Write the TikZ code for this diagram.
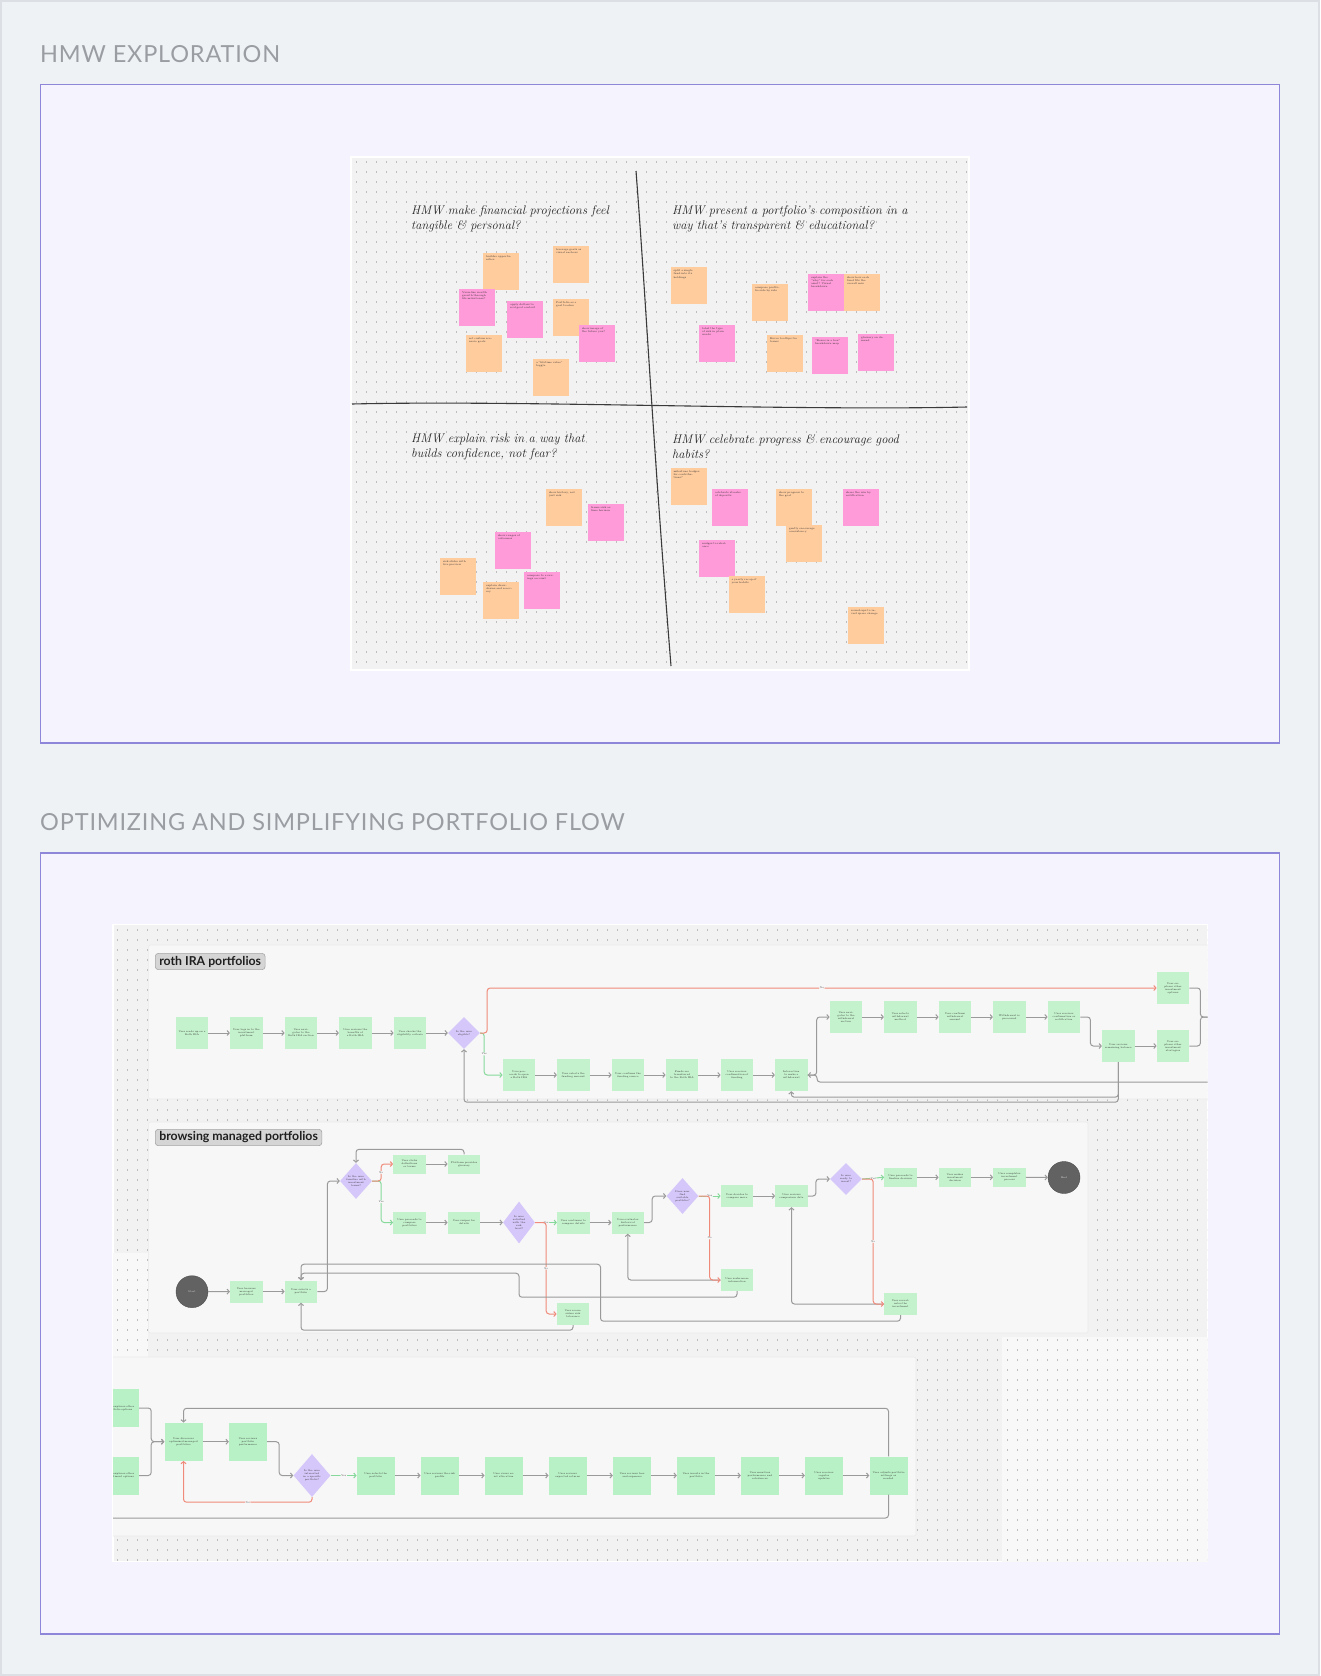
\documentclass[tikz,border=0pt]{standalone}
\usepackage{fontspec}
\setsansfont{Liberation Sans}
\newfontfamily\headfont[LetterSpace=3.5]{Lato}
\newfontfamily\tagfont{Lato}
\usetikzlibrary{arrows.meta,shapes.geometric,positioning,calc}

\definecolor{pagebg}{HTML}{EEF2F5}
\definecolor{pageedge}{HTML}{DCE0E4}
\definecolor{framefill}{HTML}{F4F3FE}
\definecolor{frameline}{HTML}{8E86D9}
\definecolor{headgray}{HTML}{9A9EA3}
\definecolor{boardbg}{HTML}{F2F2F2}
\definecolor{boardlight}{HTML}{F8F8F8}
\definecolor{dotgray}{HTML}{BDBDBD}
\definecolor{quadline}{HTML}{3A3A3A}
\definecolor{stickyorange}{HTML}{FFCC9E}
\definecolor{stickypink}{HTML}{FF9BD8}
\definecolor{panelbg}{HTML}{F7F7F7}
\definecolor{panelline}{HTML}{EAEAEA}
\definecolor{tagfill}{HTML}{D5D5D5}
\definecolor{tagline}{HTML}{A6A6A6}
\definecolor{flowgreen}{HTML}{C4F2CC}
\definecolor{flowgreen2}{HTML}{B9F1C6}
\definecolor{lavender}{HTML}{D6C7FA}
\definecolor{termgray}{HTML}{626262}
\definecolor{arrgray}{HTML}{9A9A9A}
\definecolor{nored}{HTML}{F08A7A}
\definecolor{yesgreen}{HTML}{86D99B}

\begin{document}
\begin{tikzpicture}[x=1pt, y=-1pt, font=\sffamily,
    head/.style={font=\headfont\fontsize{23.5}{26}\selectfont, text=headgray, inner sep=0, anchor=base west},
    frame/.style={draw=frameline, line width=1.6pt, fill=framefill},
    board/.style={draw=white, line width=1.5pt, fill=boardbg},
    dotrow/.style={draw=dotgray, line width=1.3pt, dash pattern=on 1.3pt off 8.7pt},
    hmw/.style={font=\rmfamily\itshape\fontsize{12.5}{15}\selectfont, align=left, anchor=north west, inner sep=0, text=black!85},
    quad/.style={draw=quadline, line width=1.1pt},
    stko/.style={fill=stickyorange, minimum width=36pt, minimum height=37pt, inner sep=0},
    stkp/.style={stko, fill=stickypink},
    stxt/.style={anchor=north west, font=\fontsize{2.6}{3.1}\selectfont, text width=27pt, align=left, inner sep=3pt, text=black!80},
    panel/.style={fill=panelbg, draw=panelline, line width=0.6pt, rounded corners=2pt},
    tag/.style={fill=tagfill, draw=tagline, line width=0.6pt, rounded corners=3pt, font=\tagfont\bfseries\fontsize{12.3}{14}\selectfont, inner xsep=4pt, inner ysep=2.5pt, anchor=west, text=black!88},
    fbox/.style={fill=flowgreen, minimum width=32.4pt, minimum height=32pt, text width=27pt, align=center, inner sep=0, font=\fontsize{2.5}{3}\selectfont, text=black!80},
    fsm/.style={fbox, minimum height=22pt},
    fbig/.style={fbox, fill=flowgreen2, minimum width=38pt, minimum height=38pt, text width=33pt},
    dec/.style={diamond, fill=lavender, minimum width=32pt, minimum height=32pt, inner sep=0, align=center, font=\fontsize{2.5}{3}\selectfont, text=black!80},
    term/.style={circle, fill=termgray, draw=termgray!80!black, minimum size=32pt, inner sep=0, font=\fontsize{2.5}{3}\selectfont, text=white!75!gray},
    arr/.style={draw=arrgray, line width=1pt, rounded corners=3pt, -{Straight Barb[length=2.2pt,width=5pt]}},
    noarr/.style={arr, draw=nored},
    yesarr/.style={arr, draw=yesgreen},
    lbl/.style={font=\fontsize{2.5}{3}\selectfont, fill=panelbg, inner sep=0.6pt, text=black!70}
]
\useasboundingbox (0,0) rectangle (1320,1676);
\draw[draw=pageedge, line width=2pt, fill=pagebg] (1,1) rectangle (1319,1675);

% ---- HMW exploration ----
\node[head] (hmwtitle) at (40,62) {HMW EXPLORATION};
\draw[frame] (40.6,84.4) rectangle (1279.4,742.8);
\draw[board] (351,157) rectangle (969,670);
\foreach \y in {162,172,...,667} \draw[dotrow] (356,\y) -- (969,\y);

\draw[quad] (636,171) .. controls (646,300) and (652,430) .. (671,666);
\draw[quad] (352,404) .. controls (520,400) and (790,411) .. (967,407);

\node[hmw] (q1) at (411,205) {HMW make financial projections feel\\tangible \& personal?};
\node[hmw] (q2) at (672,205) {HMW present a portfolio's composition in a\\way that's transparent \& educational?};
\node[hmw] (q3) at (411,434) {HMW explain risk in a way that\\builds confidence, not fear?};
\node[hmw] (q4) at (672,434) {HMW celebrate progress \& encourage good\\habits?};

\node[stko, label={[stxt]north west:{builder opportunities}}] (s1) at (501,271) {};
\node[stko, label={[stxt]north west:{leverage goals as visual anchors}}] (s2) at (571,264) {};
\node[stkp, label={[stxt]north west:{Visualize wealth growth through life milestones?}}] (s3) at (477,307) {};
\node[stkp, label={[stxt]north west:{apply dollars to real goal context}}] (s4) at (525,319) {};
\node[stko, label={[stxt]north west:{Portfolio as a goal tracker}}] (s5) at (571,317) {};
\node[stkp, label={[stxt]north west:{show image of the future you?}}] (s6) at (597,343) {};
\node[stko, label={[stxt]north west:{set custom scenario goals}}] (s7) at (484,353) {};
\node[stko, label={[stxt]north west:{a ``lifetime value'' toggle}}] (s8) at (551,377) {};
\node[stko, label={[stxt]north west:{split a single fund into its holdings}}] (s9) at (688.5,285.5) {};
\node[stko, label={[stxt]north west:{compare portfolio side by side}}] (s10) at (770,302) {};
\node[stkp, label={[stxt]north west:{explain the ``why'' for each asset? Visual breakdown}}] (s11) at (826,292) {};
\node[stko, label={[stxt]north west:{show how each fund fits the overall mix}}] (s12) at (862,292) {};
\node[stkp, label={[stxt]north west:{label the type of risk in plain words}}] (s13) at (717,343) {};
\node[stko, label={[stxt]north west:{Hover tooltips for terms}}] (s14) at (785,353) {};
\node[stkp, label={[stxt]north west:{``Boxes in a box'' breakdown map}}] (s15) at (830,355) {};
\node[stkp, label={[stxt]north west:{glossary on demand}}] (s16) at (876,352.5) {};
\node[stko, label={[stxt]north west:{show history, not just risk}}] (s17) at (564,507.5) {};
\node[stkp, label={[stxt]north west:{frame risk as time horizon}}] (s18) at (606,522) {};
\node[stkp, label={[stxt]north west:{show ranges of outcomes}}] (s19) at (513,550) {};
\node[stko, label={[stxt]north west:{risk slider with live preview}}] (s20) at (458,576) {};
\node[stko, label={[stxt]north west:{explain drawdowns and recovery}}] (s21) at (501,600) {};
\node[stkp, label={[stxt]north west:{compare to a savings account}}] (s22) at (542,590.5) {};
\node[stko, label={[stxt]north west:{milestone badges for contributions?}}] (s23) at (688.5,486) {};
\node[stkp, label={[stxt]north west:{celebrate streaks of deposits}}] (s24) at (730,507.5) {};
\node[stko, label={[stxt]north west:{show progress to the goal}}] (s25) at (794,507.5) {};
\node[stkp, label={[stxt]north west:{share the win by notification}}] (s26) at (861,507.5) {};
\node[stko, label={[stxt]north west:{gently encourage consistency}}] (s27) at (804,543.5) {};
\node[stkp, label={[stxt]north west:{nudges to rebalance}}] (s28) at (717,558) {};
\node[stko, label={[stxt]north west:{a yearly recap of your habits}}] (s29) at (746.5,594) {};
\node[stko, label={[stxt]north west:{round-ups to invest spare change}}] (s30) at (866,625.5) {};

% ---- portfolio flow ----
\node[head] (flowtitle) at (40,830.5) {OPTIMIZING AND SIMPLIFYING PORTFOLIO FLOW};
\draw[frame] (40.6,853) rectangle (1279.4,1634);
\draw[board] (113,924.5) rectangle (1207.7,1561.5);

\begin{scope}
\clip (113,924.5) rectangle (1207.7,1561.5);
\fill[boardlight] (1002,1337) rectangle (1208,1562);
\fill[boardlight] (113,1253) rectangle (148,1357);
\foreach \y in {930,940,...,1560} \draw[dotrow] (117,\y) -- (1207,\y);
\draw[panel] (148.6,945) rectangle (1212,1099);
\draw[panel] (148.6,1122) rectangle (1088,1333);
\draw[panel] (100,1357) rectangle (916,1536);

\node[tag] (tagroth) at (155,961.5) {roth IRA portfolios};
\node[tag] (tagbrowse) at (155,1137.5) {browsing managed portfolios};

% roth IRA
\node[fbox] (r1) at (192,1033) {User reads up on a\\Roth IRA};
\node[fbox] (r2) at (246.3,1033) {User logs in to the\\investment platform};
\node[fbox] (r3) at (301,1033) {User navigates to the\\Roth IRA section};
\node[fbox] (r4) at (355.3,1033) {User reviews the\\benefits of a Roth IRA};
\node[fbox] (r5) at (410,1033) {User checks the\\eligibility criteria};
\node[dec] (rd) at (464,1033) {Is the user\\eligible?};
\node[fbox] (r6) at (519,1075) {User proceeds to open\\a Roth IRA};
\node[fbox] (r7) at (573.3,1075) {User selects the\\funding amount};
\node[fbox] (r8) at (628,1075) {User confirms the\\funding source};
\node[fbox] (r9) at (682,1075) {Funds are transferred\\to the Roth IRA};
\node[fbox] (r10) at (737,1075) {User receives\\confirmation of\\funding};
\node[fbox] (r11) at (791.3,1075) {Interaction to make a\\withdrawal};
\node[fbox] (r12) at (846,1017) {User navigates to the\\withdrawal section};
\node[fbox] (r13) at (900.3,1017) {User selects\\withdrawal method};
\node[fbox] (r14) at (955,1017) {User confirms\\withdrawal amount};
\node[fbox] (r15) at (1009.3,1017) {Withdrawal is\\processed};
\node[fbox] (r16) at (1064,1017) {User receives\\confirmation or\\notification};
\node[fbox] (r17) at (1118.3,1046) {User reviews\\remaining balance};
\node[fbox] (r18) at (1173,988) {User explores other\\investment options};
\node[fbox] (r19) at (1173,1046) {User explores other\\investment strategies};
\coordinate (rm) at (1208,1017);
\coordinate (rret) at (1208,1082);

\draw[arr] (r1) -- (r2);
\draw[arr] (r2) -- (r3);
\draw[arr] (r3) -- (r4);
\draw[arr] (r4) -- (r5);
\draw[arr] (r5) -- (rd);
\draw[yesarr] (rd.east) -- ++(4,0) |- node[lbl, pos=0.25] {Yes} (r6.west);
\draw[noarr] (rd.east) -- ++(7,0) |- node[lbl, pos=0.75] {No} (r18.west);
\draw[arr] (r6) -- (r7);
\draw[arr] (r7) -- (r8);
\draw[arr] (r8) -- (r9);
\draw[arr] (r9) -- (r10);
\draw[arr] (r10) -- (r11);
\draw[arr] (r11.east) -- ++(9,0) |- (r12.west);
\draw[arr] (r12) -- (r13);
\draw[arr] (r13) -- (r14);
\draw[arr] (r14) -- (r15);
\draw[arr] (r15) -- (r16);
\draw[arr] (r16.east) -- ++(10,0) |- (r17.west);
\draw[arr] (r17) -- (r19);
\draw[arr, -] (r18.east) -- ++(11,0) |- (rm);
\draw[arr, -] (r19.east) -- ++(11,0) |- (rm);
\draw[arr] (rret) -- ++(-391,0) |- (r11.east);
\draw[arr] (r17.south) -- ++(0,35) -| (r11.south);
\draw[arr] (r17.south) -- ++(0,40) -| (rd.south);

% browsing managed portfolios
\node[term] (st) at (192,1291.7) {Start};
\node[fsm] (b1) at (246.3,1291.5) {User browses\\managed portfolios};
\node[fsm] (b2) at (301,1291.5) {User selects a\\portfolio};
\node[dec, minimum height=36pt] (d1) at (356,1181) {Is the user\\familiar with\\investment\\terms?};
\node[fsm, minimum height=19pt] (u1) at (409.5,1164) {User clicks\\definitions or terms};
\node[fsm, minimum height=19pt] (u2) at (464,1164) {Platform provides\\glossary};
\node[fsm] (m1) at (409.5,1222.5) {User proceeds to\\compare portfolios};
\node[fsm] (m2) at (464,1222.5) {User swipes for\\details};
\node[dec, minimum height=42pt] (d2) at (519,1222.5) {Is user\\satisfied\\with the\\risk\\level?};
\node[fsm] (m3) at (573.3,1222.5) {User continues to\\compare details};
\node[fsm] (m4) at (627.8,1222.5) {User evaluates\\historical\\performance};
\node[dec, minimum height=36pt] (d3) at (682.5,1196) {Does user\\find\\suitable\\portfolio?};
\node[fsm] (v1) at (737,1196) {User decides to\\compare more};
\node[fsm] (v2) at (791.5,1196) {User reviews\\comparison data};
\node[dec] (d4) at (846,1179) {Is user\\ready to\\invest?};
\node[fsm, minimum height=19pt] (e1) at (900.5,1177.3) {User proceeds to\\finalize decision};
\node[fsm, minimum height=19pt] (e2) at (955,1177.3) {User makes investment\\decision};
\node[fsm, minimum height=19pt] (e3) at (1009.5,1177.3) {User completes\\investment process};
\node[term] (en) at (1064,1177.5) {End};
\node[fsm] (bl) at (573,1314) {User reconsiders risk\\tolerance};
\node[fsm] (dl) at (737,1280) {User seeks more\\information};
\node[fsm] (el) at (900.5,1304) {User reevaluates the\\investment};

\draw[arr] (st) -- (b1);
\draw[arr] (b1) -- (b2);
\draw[arr] (b2.east) -- ++(10,0) |- (d1.west);
\draw[yesarr] (d1.east) -- ++(9,0) |- node[lbl, pos=0.25] {Yes} (m1.west);
\draw[noarr] (d1.east) -- ++(9,0) |- node[lbl, pos=0.25] {No} (u1.west);
\draw[arr] (u1) -- (u2);
\draw[arr] (u2.north) -- ++(0,-5) -| (d1.north);
\draw[arr] (m1) -- (m2);
\draw[arr] (m2) -- (d2);
\draw[yesarr] (d2.east) -- node[lbl] {Yes} (m3.west);
\draw[noarr] (d2.east) -- ++(11,0) |- node[lbl, pos=0.25] {No} (bl.west);
\draw[arr] (m3) -- (m4);
\draw[arr] (m4.east) -- ++(8,0) |- (d3.west);
\draw[arr] (dl.west) -| (m4.south);
\draw[yesarr] (d3.east) -- node[lbl] {Yes} (v1.west);
\draw[noarr] (d3.east) -- ++(11,0) |- node[lbl, pos=0.25] {No} (dl.west);
\draw[arr] (v1) -- (v2);
\draw[arr] (v2.east) -- ++(8,0) |- (d4.west);
\draw[arr] (el.west) -| (v2.south);
\draw[yesarr] (d4.east) -- node[lbl] {Yes} (e1.west);
\draw[noarr] (d4.east) -- ++(11,0) |- node[lbl, pos=0.25] {No} (el.west);
\draw[arr] (e1) -- (e2);
\draw[arr] (e2) -- (e3);
\draw[arr] (e3) -- (en);
\draw[arr] (dl.south) -- ++(0,6) -| ++(-218,-24) -| (b2.north);
\draw[arr] (el.south) -- ++(0,6) -| ++(-300,-57) -| (b2.north);
\draw[arr] (bl.south) -- ++(0,5) -| (b2.south);

% optimized managed portfolios
\node[fbig] (c0a) at (120,1408) {User explores other\\portfolio options};
\node[fbig] (c0b) at (120,1475.5) {User explores other\\investment options};
\node[fbig] (c1) at (183.5,1441.7) {User discovers\\optimized managed\\portfolios};
\node[fbig] (c2) at (248,1441.7) {User reviews\\portfolio\\performance};
\node[dec, minimum width=37pt, minimum height=43pt] (d5) at (312,1475.5) {Is the user\\interested\\in a specific\\portfolio?};
\node[fbig] (f1) at (375.8,1475.5) {User selects the\\portfolio};
\node[fbig] (f2) at (439.7,1475.5) {User reviews the risk\\profile};
\node[fbig] (f3) at (503.7,1475.5) {User views asset allocation};
\node[fbig] (f4) at (567.7,1475.5) {User reviews\\expected returns};
\node[fbig] (f5) at (632,1475.5) {User reviews fees\\and expenses};
\node[fbig] (f6) at (696,1475.5) {User invests in the\\portfolio};
\node[fbig] (f7) at (760,1475.5) {User monitors\\performance and\\rebalances};
\node[fbig] (f8) at (824,1475.5) {User receives\\regular\\updates};
\node[fbig] (f9) at (888.5,1475.5) {User adjusts portfolio\\settings as\\needed};
\coordinate (lend) at (100,1518);

\draw[arr] (c0a.east) -- ++(12,0) |- (c1.west);
\draw[arr] (c0b.east) -- ++(12,0) |- (c1.west);
\draw[arr] (c1) -- (c2);
\draw[arr] (c2.east) -- ++(12,0) |- (d5.west);
\draw[yesarr] (d5.east) -- node[lbl] {Yes} (f1.west);
\draw[noarr] (d5.south) -- ++(0,5) -| node[lbl, pos=0.25] {No} (c1.south);
\draw[arr] (f1) -- (f2);
\draw[arr] (f2) -- (f3);
\draw[arr] (f3) -- (f4);
\draw[arr] (f4) -- (f5);
\draw[arr] (f5) -- (f6);
\draw[arr] (f6) -- (f7);
\draw[arr] (f7) -- (f8);
\draw[arr] (f8) -- (f9);
\draw[arr] (f9.north) -- ++(0,-48) -| (c1.north);
\draw[arr, -] (f9.south) |- (lend);
\end{scope}
\end{tikzpicture}
\end{document}
